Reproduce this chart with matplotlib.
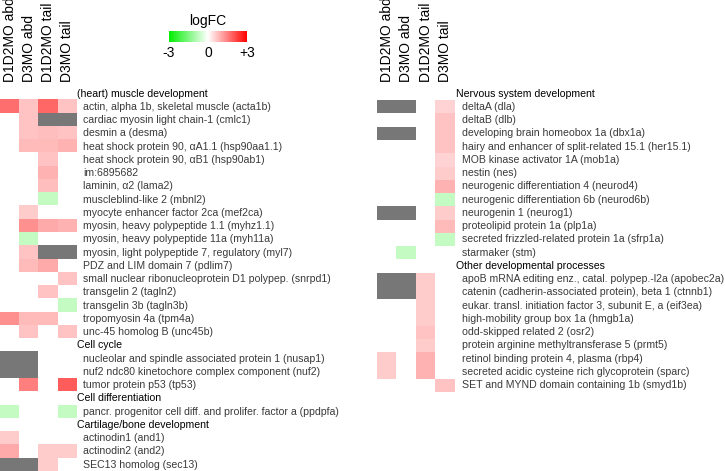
import numpy as np
import matplotlib
matplotlib.use("Agg")
import matplotlib.pyplot as plt
from matplotlib.colors import LinearSegmentedColormap, Normalize

plt.rcParams['font.family'] = ['Liberation Sans', 'DejaVu Sans']

N = np.nan
G = 99  # grey cell (no value)

columns = ["D1D2MO abd", "D3MO abd", "D1D2MO tail", "D3MO tail"]

headers = ["(heart) muscle development", "Cell cycle", "Cell differentiation",
           "Cartilage/bone development", "Nervous system development",
           "Other developmental processes"]

left_labels = [
    "(heart) muscle development",
    "actin, alpha 1b, skeletal muscle (acta1b)",
    "cardiac myosin light chain-1 (cmlc1)",
    "desmin a (desma)",
    "heat shock protein 90, \u03b1A1.1 (hsp90aa1.1)",
    "heat shock protein 90, \u03b1B1 (hsp90ab1)",
    "im:6895682",
    "laminin, \u03b12 (lama2)",
    "muscleblind-like 2 (mbnl2)",
    "myocyte enhancer factor 2ca (mef2ca)",
    "myosin, heavy polypeptide 1.1 (myhz1.1)",
    "myosin, heavy polypeptide 11a (myh11a)",
    "myosin, light polypeptide 7, regulatory (myl7)",
    "PDZ and LIM domain 7 (pdlim7)",
    "small nuclear ribonucleoprotein D1 polypep. (snrpd1)",
    "transgelin 2 (tagln2)",
    "transgelin 3b (tagln3b)",
    "tropomyosin 4a (tpm4a)",
    "unc-45 homolog B (unc45b)",
    "Cell cycle",
    "nucleolar and spindle associated protein 1 (nusap1)",
    "nuf2 ndc80 kinetochore complex component (nuf2)",
    "tumor protein p53 (tp53)",
    "Cell differentiation",
    "pancr. progenitor cell diff. and prolifer. factor a (ppdpfa)",
    "Cartilage/bone development",
    "actinodin1 (and1)",
    "actinodin2 (and2)",
    "SEC13 homolog (sec13)",
]

left_values = [
    [N, N, N, N],
    [1.7, 0.7, 1.8, 0.7],
    [N, 0.7, G, G],
    [N, 0.7, 0.75, 0.7],
    [N, 0.8, 0.8, 0.9],
    [N, N, 0.7, N],
    [N, N, 0.9, N],
    [N, N, 0.75, N],
    [N, N, -0.7, N],
    [N, 0.6, N, N],
    [N, 1.3, 1.0, 0.9],
    [N, -0.7, N, N],
    [N, 0.7, G, G],
    [N, 0.8, 1.0, N],
    [N, N, N, 0.7],
    [N, N, 0.7, N],
    [N, N, N, -0.7],
    [1.3, 0.8, 0.8, N],
    [N, 0.7, N, 0.7],
    [N, N, N, N],
    [G, G, N, N],
    [G, G, N, N],
    [N, 1.5, N, 1.9],
    [N, N, N, N],
    [-0.7, N, N, -0.7],
    [N, N, N, N],
    [0.6, N, N, N],
    [1.0, N, 0.6, 0.6],
    [G, G, 0.6, N],
]

right_labels = [
    "Nervous system development",
    "deltaA (dla)",
    "deltaB (dlb)",
    "developing brain homeobox 1a (dbx1a)",
    "hairy and enhancer of split-related 15.1 (her15.1)",
    "MOB kinase activator 1A (mob1a)",
    "nestin (nes)",
    "neurogenic differentiation 4 (neurod4)",
    "neurogenic differentiation 6b (neurod6b)",
    "neurogenin 1 (neurog1)",
    "proteolipid protein 1a (plp1a)",
    "secreted frizzled-related protein 1a (sfrp1a)",
    "starmaker (stm)",
    "Other developmental processes",
    "apoB mRNA editing enz., catal. polypep.-l2a (apobec2a)",
    "catenin (cadherin-associated protein), beta 1 (ctnnb1)",
    "eukar. transl. initiation factor 3, subunit E, a (eif3ea)",
    "high-mobility group box 1a (hmgb1a)",
    "odd-skipped related 2 (osr2)",
    "protein arginine methyltransferase 5 (prmt5)",
    "retinol binding protein 4, plasma (rbp4)",
    "secreted acidic cysteine rich glycoprotein (sparc)",
    "SET and MYND domain containing 1b (smyd1b)",
]

right_values = [
    [N, N, N, N],
    [G, G, N, 0.5],
    [N, N, N, 0.7],
    [G, G, N, 0.7],
    [N, N, N, 0.7],
    [N, N, N, 0.5],
    [N, N, N, 0.6],
    [N, N, N, 0.9],
    [N, N, N, -0.7],
    [G, G, N, 0.6],
    [N, N, N, 0.8],
    [N, N, N, -0.7],
    [N, -0.7, N, N],
    [N, N, N, N],
    [G, G, 0.6, N],
    [G, G, 0.6, N],
    [N, N, 0.6, N],
    [N, N, 0.6, N],
    [N, N, 0.7, N],
    [N, N, 0.6, N],
    [0.6, N, 0.9, N],
    [0.6, N, 0.9, N],
    [N, N, N, 0.7],
]

W, H = 725, 471
fig = plt.figure(figsize=(W / 100, H / 100), dpi=100)


def px_axes(x0, y0, x1, y1):
    return fig.add_axes([x0 / W, 1 - y1 / H, (x1 - x0) / W, (y1 - y0) / H])


cmap = LinearSegmentedColormap.from_list(
    "gwr", [(0, "#00ee00"), (0.5, "#ffffff"), (1, "#ff0000")])
cmap.set_bad("white")
cmap.set_over("#777777")
norm = Normalize(-3, 3)

row_h = 13.25
top = 87


def heatmap(x0, x1, labels, values, lab_off, head_off):
    n = len(labels)
    ax = px_axes(x0, top, x1, top + n * row_h)
    arr = np.array(values, dtype=float)
    ax.imshow(np.ma.masked_invalid(arr), cmap=cmap, norm=norm,
              aspect="auto", interpolation="nearest")
    ax.set_xlim(-0.5, 3.5)
    ax.set_ylim(n - 0.5, -0.5)
    ax.axis("off")
    for i, lab in enumerate(labels):
        is_head = lab in headers
        ax.annotate(lab, xy=(1, i), xycoords=("axes fraction", "data"),
                    xytext=(head_off if is_head else lab_off, 0),
                    textcoords="offset pixels", ha="left", va="center",
                    fontsize=7.6, color="black" if is_head else "#3a3a3a",
                    annotation_clip=False)
    for j, c in enumerate(columns):
        ax.annotate(c, xy=(j, 1), xycoords=("data", "axes fraction"),
                    xytext=(0, 5), textcoords="offset pixels",
                    rotation=90, ha="center", va="bottom", fontsize=10,
                    annotation_clip=False)
    return ax


heatmap(0, 77, left_labels, left_values, 6, 0)
heatmap(377, 455, right_labels, right_values, 7, 1)

cax = px_axes(169, 31, 247, 42)
sm = plt.cm.ScalarMappable(norm=norm, cmap=cmap)
cb = fig.colorbar(sm, cax=cax, orientation="horizontal")
cb.outline.set_visible(False)
cb.set_ticks([-3, 0, 3])
cb.set_ticklabels(["-3", "0", "+3"])
cax.tick_params(length=0, labelsize=10, pad=3)
cax.set_title("logFC", fontsize=10, pad=4)

fig.savefig("out.png", dpi=100)
